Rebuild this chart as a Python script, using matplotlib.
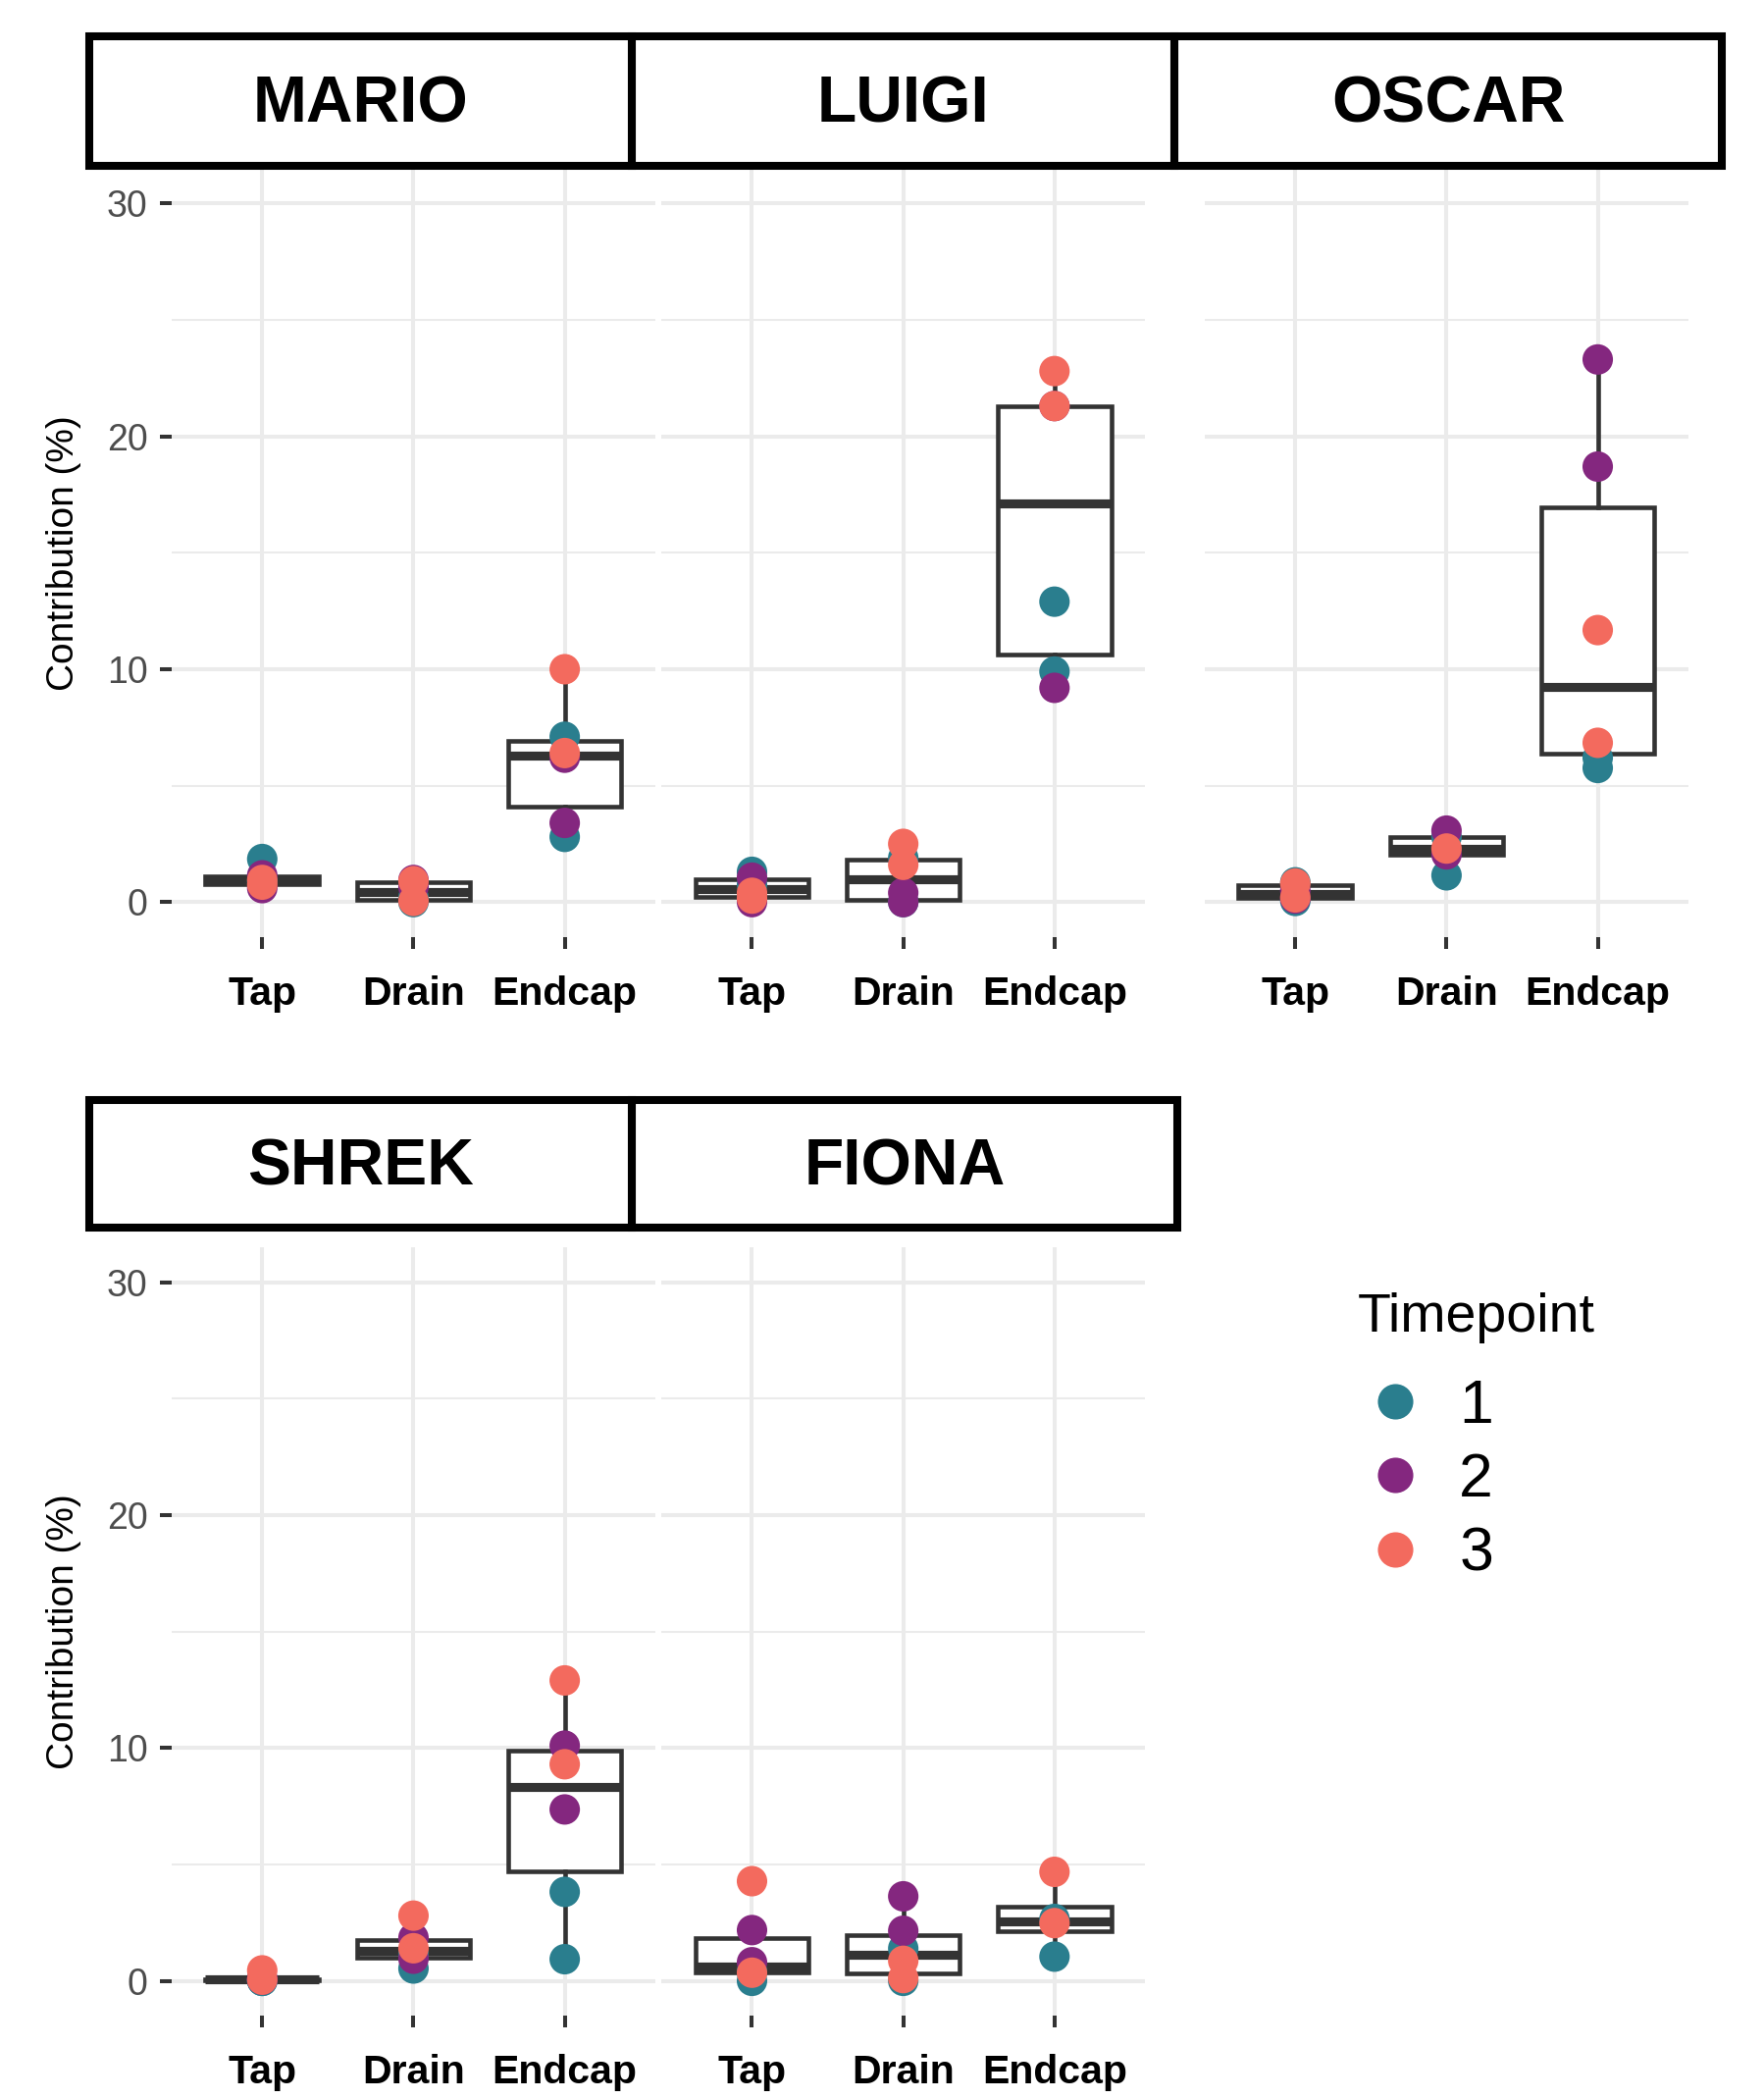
import matplotlib
matplotlib.use("Agg")
import matplotlib.pyplot as plt
from matplotlib.patches import Rectangle
from matplotlib.lines import Line2D
import numpy as np

plt.rcParams['font.family'] = ['Liberation Sans', 'DejaVu Sans']

# ---------------- data ----------------
panels = ["MARIO", "LUIGI", "OSCAR", "SHREK", "FIONA"]
sites = ["Tap", "Drain", "Endcap"]
timepoints = ["1", "2", "3"]
tp_colors = ["#2A7E8E", "#84277F", "#F36A5E"]

# values per timepoint: [Tap values], [Drain values], [Endcap values]
mario_t1 = [[1.85, 0.9], [0.0, 0.2], [7.1, 2.8]]
mario_t2 = [[1.15, 0.6], [0.95, 0.65], [6.2, 3.4]]
mario_t3 = [[0.75, 0.95], [0.9, 0.05], [10.0, 6.4]]

luigi_t1 = [[1.3, 0.75], [1.9, 0.0], [12.9, 9.9]]
luigi_t2 = [[1.05, 0.0], [0.4, 0.0], [21.3, 9.2]]
luigi_t3 = [[0.4, 0.15], [2.5, 1.6], [22.8, 21.3]]

oscar_t1 = [[0.85, 0.05], [1.15, 2.8], [6.2, 5.76]]
oscar_t2 = [[0.15, 0.5], [3.07, 2.05], [23.3, 18.7]]
oscar_t3 = [[0.8, 0.2], [2.3], [11.68, 6.84]]

shrek_t1 = [[0.0, 0.0], [0.53, 1.15], [3.82, 0.93]]
shrek_t2 = [[0.05, 0.1], [1.85, 0.95], [10.1, 7.36]]
shrek_t3 = [[0.45, 0.05], [2.8, 1.4], [12.9, 9.3]]

fiona_t1 = [[0.0, 0.4], [1.39, 0.0], [2.66, 1.04]]
fiona_t2 = [[2.18, 0.8], [3.63, 2.15], []]
fiona_t3 = [[4.28, 0.35], [0.86, 0.12], [4.68, 2.48]]

panel_data = {
    "MARIO": [mario_t1, mario_t2, mario_t3],
    "LUIGI": [luigi_t1, luigi_t2, luigi_t3],
    "OSCAR": [oscar_t1, oscar_t2, oscar_t3],
    "SHREK": [shrek_t1, shrek_t2, shrek_t3],
    "FIONA": [fiona_t1, fiona_t2, fiona_t3],
}

y_ticks = [0, 10, 20, 30]
y_minor = [5, 15, 25]

# ---------------- layout (pixels) ----------------
W, H = 1799, 2139
fig = plt.figure(figsize=(W / 100, H / 100), dpi=100)
fig.patch.set_facecolor("white")

rows = {"top": (171.7, 954.9), "bottom": (1271.0, 2054.2)}
panel_pos = {
    "MARIO": ((174.8, 668.1), "top"),
    "LUIGI": ((674.0, 1167.3), "top"),
    "OSCAR": ((1227.8, 1721.0), "top"),
    "SHREK": ((174.8, 668.1), "bottom"),
    "FIONA": ((674.0, 1167.3), "bottom"),
}
strip_pos = {
    "MARIO": (91.4, 643.8, 36.8, 169.1),
    "LUIGI": (643.8, 1197.5, 36.8, 169.1),
    "OSCAR": (1197.5, 1755.4, 36.8, 169.1),
    "SHREK": (91.4, 643.8, 1121.0, 1250.7),
    "FIONA": (643.8, 1200.0, 1121.0, 1250.7),
}

grid_col = "#EBEBEB"
line_col = "#333333"

for name in panels:
    (x0, x1), row = panel_pos[name]
    y0, y1 = rows[row]
    ax = fig.add_axes([x0 / W, 1 - y1 / H, (x1 - x0) / W, (y1 - y0) / H])

    tps = panel_data[name]
    groups = [sum((tps[t][i] for t in range(3)), []) for i in range(len(sites))]
    ax.boxplot(groups, positions=range(len(sites)), widths=0.75, showfliers=False,
               showcaps=False, patch_artist=True, whis=1.5,
               boxprops=dict(facecolor="white", edgecolor=line_col, linewidth=3.3),
               medianprops=dict(color=line_col, linewidth=6.6),
               whiskerprops=dict(color=line_col, linewidth=3.3),
               zorder=2)
    for t in range(3):
        xs, ys = [], []
        for i in range(len(sites)):
            xs += [i] * len(tps[t][i])
            ys += tps[t][i]
        ax.scatter(xs, ys, s=500, color=tp_colors[t], edgecolors="none", zorder=3)

    ax.set_xlim(-0.6, 2.6)
    ax.set_ylim(-1.5, 31.5)
    for s in ax.spines.values():
        s.set_visible(False)
    ax.set_axisbelow(True)
    ax.set_yticks(y_ticks)
    ax.set_yticks(y_minor, minor=True)
    ax.set_xticks(range(len(sites)))
    ax.set_xticklabels(sites, fontsize=29.5, fontweight="bold", color="black")
    ax.grid(True, which="major", color=grid_col, linewidth=2.9)
    ax.grid(True, which="minor", axis="y", color=grid_col, linewidth=1.45)
    ax.tick_params(axis="x", length=8.5, width=2.9, color=line_col, pad=19.5)
    ax.tick_params(axis="y", which="minor", length=0)
    if name in ("MARIO", "SHREK"):
        ax.set_yticklabels([str(t) for t in y_ticks], fontsize=27, color="#4D4D4D")
        ax.tick_params(axis="y", which="major", length=8.5, width=2.9, color=line_col, pad=9)
        ax.set_ylabel("Contribution (%)", fontsize=28, color="black", va="center")
        ax.yaxis.set_label_coords((65.5 - x0) / (x1 - x0), 0.5)
    else:
        ax.tick_params(axis="y", which="major", length=0, labelleft=False)

    sx0, sx1, sy0, sy1 = strip_pos[name]
    fig.patches.append(Rectangle((sx0 / W, 1 - sy1 / H), (sx1 - sx0) / W, (sy1 - sy0) / H,
                                 transform=fig.transFigure, fill=False,
                                 edgecolor="black", linewidth=5.8))
    fig.text((sx0 + sx1) / 2 / W, 1 - ((sy0 + sy1) / 2 + 5) / H, name, ha="center", va="center",
             fontsize=47.5, fontweight="bold", color="black")

# legend
fig.text(1384 / W, 1 - 1343 / H, "Timepoint", ha="left", va="center", fontsize=40, color="black")
handles = [Line2D([], [], marker="o", linestyle="", markersize=26,
                  markerfacecolor=c, markeredgecolor="none") for c in tp_colors]
leg = fig.legend(handles, timepoints, loc="upper left",
                 bbox_to_anchor=(1384 / W, 1 - 1404 / H), frameon=False,
                 fontsize=45, handlelength=1.2, handletextpad=0.45, labelspacing=0.26,
                 borderpad=0, borderaxespad=0)

fig.savefig("out.png", dpi=100)
